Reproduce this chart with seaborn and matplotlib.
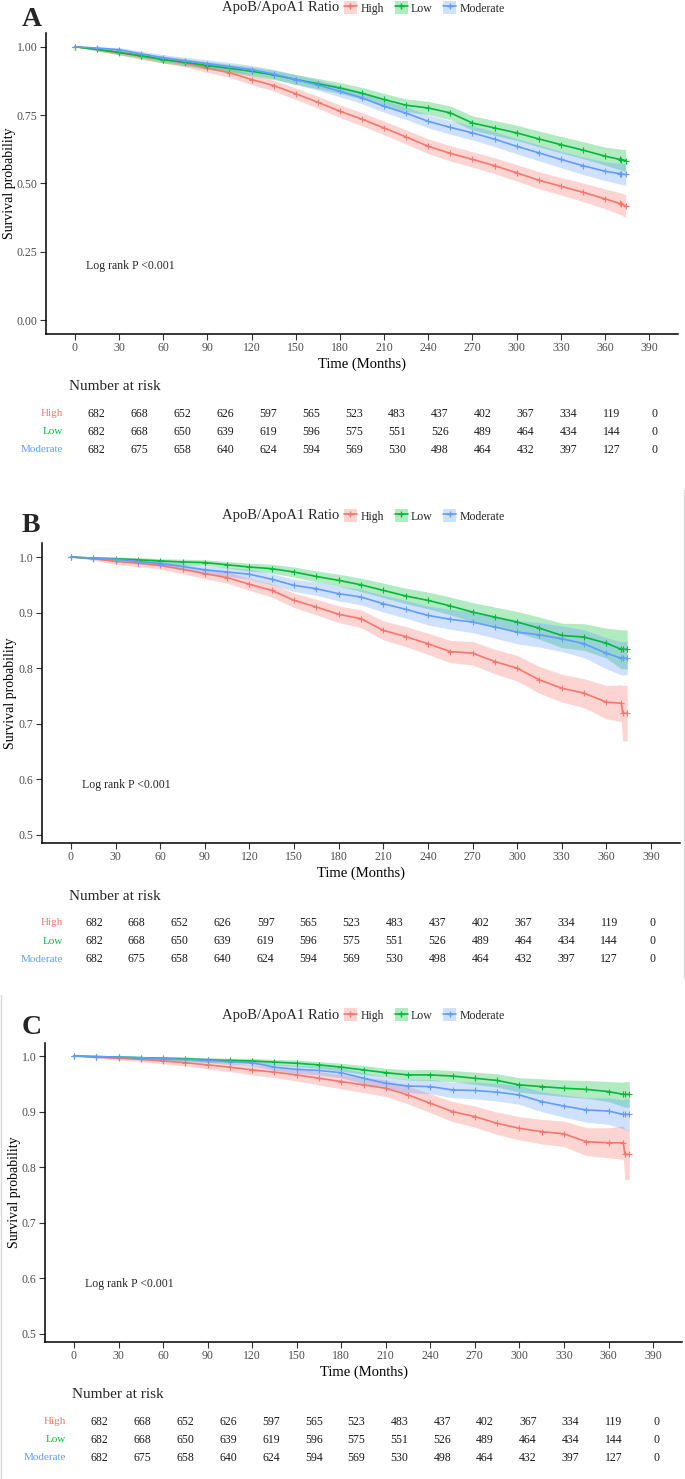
import numpy as np
import pandas as pd
import seaborn as sns
import matplotlib.pyplot as plt
from matplotlib.lines import Line2D
from matplotlib.patches import Patch

# ---- data ----
groups = ["High", "Low", "Moderate"]
colors = {"High": "#F8766D", "Low": "#00BA38", "Moderate": "#619CFF"}

# time grid (months) at which the curves were read
time = [0, 15, 30, 45, 60, 75, 90, 105, 120, 135, 150, 165, 180, 195, 210,
        225, 240, 255, 270, 285, 300, 315, 330, 345, 360, 370, 371, 374]

# panel A
a_high = [1.0, 0.99, 0.978, 0.965, 0.953, 0.94, 0.922, 0.905, 0.88, 0.858, 0.828, 0.797, 0.764, 0.735,
          0.703, 0.67, 0.636, 0.61, 0.588, 0.565, 0.539, 0.512, 0.49, 0.468, 0.444, 0.427, 0.425, 0.417]
a_low = [1.0, 0.99, 0.979, 0.967, 0.953, 0.943, 0.931, 0.921, 0.91, 0.897, 0.88, 0.865, 0.849, 0.83,
         0.807, 0.786, 0.776, 0.758, 0.721, 0.703, 0.685, 0.663, 0.642, 0.622, 0.60, 0.588, 0.587, 0.584]
a_mod = [1.0, 0.995, 0.989, 0.974, 0.959, 0.948, 0.938, 0.927, 0.916, 0.9, 0.88, 0.86, 0.837, 0.813,
         0.782, 0.757, 0.727, 0.705, 0.685, 0.662, 0.636, 0.612, 0.588, 0.565, 0.545, 0.536, 0.535, 0.533]
# half-width of the confidence band
a_high_ci = [0, 0.006, 0.009, 0.011, 0.013, 0.014, 0.016, 0.017, 0.019, 0.02, 0.021, 0.022, 0.023, 0.024,
             0.025, 0.026, 0.027, 0.028, 0.028, 0.029, 0.03, 0.031, 0.032, 0.034, 0.036, 0.04, 0.04, 0.042]
a_low_ci = [0, 0.005, 0.008, 0.01, 0.012, 0.013, 0.014, 0.015, 0.016, 0.017, 0.018, 0.019, 0.02, 0.021,
            0.022, 0.023, 0.024, 0.025, 0.026, 0.027, 0.028, 0.029, 0.03, 0.031, 0.033, 0.038, 0.038, 0.04]
a_mod_ci = [0, 0.005, 0.008, 0.01, 0.012, 0.013, 0.014, 0.015, 0.016, 0.017, 0.018, 0.019, 0.02, 0.021,
            0.022, 0.023, 0.024, 0.025, 0.026, 0.027, 0.028, 0.029, 0.03, 0.032, 0.034, 0.038, 0.038, 0.04]

# panel B
b_high = [1.0, 0.997, 0.992, 0.989, 0.985, 0.978, 0.97, 0.963, 0.951, 0.94, 0.922, 0.91, 0.897, 0.889,
          0.868, 0.857, 0.844, 0.83, 0.827, 0.812, 0.80, 0.779, 0.764, 0.755, 0.739, 0.737, 0.719, 0.719]
b_low = [1.0, 0.998, 0.997, 0.995, 0.993, 0.991, 0.99, 0.986, 0.982, 0.979, 0.973, 0.965, 0.958, 0.95,
         0.94, 0.93, 0.922, 0.912, 0.901, 0.892, 0.883, 0.872, 0.859, 0.856, 0.845, 0.834, 0.834, 0.834]
b_mod = [1.0, 0.998, 0.996, 0.992, 0.988, 0.983, 0.977, 0.973, 0.969, 0.96, 0.949, 0.943, 0.934, 0.928,
         0.916, 0.906, 0.895, 0.888, 0.883, 0.874, 0.865, 0.86, 0.853, 0.844, 0.827, 0.818, 0.818, 0.818]
b_high_ci = [0, 0.003, 0.005, 0.006, 0.007, 0.008, 0.009, 0.01, 0.011, 0.012, 0.013, 0.014, 0.015, 0.016,
             0.017, 0.018, 0.019, 0.02, 0.021, 0.022, 0.023, 0.024, 0.025, 0.026, 0.03, 0.033, 0.05, 0.05]
b_low_ci = [0, 0.002, 0.003, 0.004, 0.004, 0.005, 0.005, 0.006, 0.007, 0.008, 0.009, 0.01, 0.011, 0.012,
            0.013, 0.014, 0.015, 0.016, 0.017, 0.018, 0.019, 0.02, 0.022, 0.024, 0.027, 0.035, 0.035, 0.035]
b_mod_ci = [0, 0.002, 0.003, 0.004, 0.005, 0.006, 0.007, 0.008, 0.009, 0.01, 0.011, 0.012, 0.013, 0.014,
            0.015, 0.016, 0.017, 0.018, 0.019, 0.02, 0.021, 0.022, 0.023, 0.025, 0.028, 0.03, 0.03, 0.03]

# panel C
c_high = [1.0, 0.998, 0.996, 0.994, 0.991, 0.988, 0.984, 0.98, 0.975, 0.971, 0.966, 0.96, 0.954, 0.948,
          0.942, 0.93, 0.915, 0.90, 0.891, 0.879, 0.87, 0.864, 0.86, 0.846, 0.844, 0.844, 0.823, 0.823]
c_low = [1.0, 0.999, 0.998, 0.997, 0.996, 0.995, 0.993, 0.992, 0.991, 0.989, 0.987, 0.984, 0.98, 0.975,
         0.97, 0.966, 0.966, 0.964, 0.96, 0.956, 0.948, 0.945, 0.942, 0.94, 0.936, 0.931, 0.931, 0.931]
c_mod = [1.0, 0.999, 0.998, 0.997, 0.995, 0.994, 0.992, 0.99, 0.988, 0.98, 0.976, 0.974, 0.97, 0.96,
         0.951, 0.946, 0.945, 0.939, 0.938, 0.935, 0.93, 0.918, 0.91, 0.903, 0.901, 0.895, 0.895, 0.895]
c_high_ci = [0, 0.002, 0.003, 0.004, 0.005, 0.006, 0.007, 0.008, 0.009, 0.01, 0.011, 0.012, 0.013, 0.014,
             0.015, 0.016, 0.017, 0.018, 0.019, 0.02, 0.021, 0.022, 0.023, 0.025, 0.027, 0.03, 0.045, 0.045]
c_low_ci = [0, 0.001, 0.002, 0.002, 0.003, 0.003, 0.004, 0.004, 0.005, 0.005, 0.006, 0.006, 0.007, 0.008,
            0.008, 0.009, 0.01, 0.01, 0.011, 0.012, 0.013, 0.014, 0.015, 0.016, 0.018, 0.022, 0.023, 0.023]
c_mod_ci = [0, 0.001, 0.002, 0.002, 0.003, 0.004, 0.004, 0.005, 0.005, 0.006, 0.007, 0.008, 0.009, 0.01,
            0.011, 0.012, 0.013, 0.014, 0.015, 0.016, 0.017, 0.018, 0.02, 0.022, 0.024, 0.026, 0.028, 0.028]

# number at risk (same table under each panel)
risk_times = [0, 30, 60, 90, 120, 150, 180, 210, 240, 270, 300, 330, 360, 390]
risk_high = [682, 668, 652, 626, 597, 565, 523, 483, 437, 402, 367, 334, 119, 0]
risk_low = [682, 668, 650, 639, 619, 596, 575, 551, 526, 489, 464, 434, 144, 0]
risk_mod = [682, 675, 658, 640, 624, 594, 569, 530, 498, 464, 432, 397, 127, 0]
x_ticks = list(range(0, 391, 30))

# ---- figure ----
sns.set_theme(style="ticks")
plt.rcParams['font.family'] = ['Liberation Serif', 'DejaVu Serif']

W, H = 685, 1479
fig = plt.figure(figsize=(W / 100, H / 100), dpi=100)


def rect(l, t, r, b):
    return [l / W, 1 - b / H, (r - l) / W, (b - t) / H]


def ftext(x, y, s, **kw):
    fig.text(x / W, 1 - y / H, s, **kw)


def make_df(high, low, mod, hci, lci, mci):
    rows = []
    for g, s, ci in [("High", high, hci), ("Low", low, lci), ("Moderate", mod, mci)]:
        for t, v, e in zip(time, s, ci):
            rows.append({"time": t, "surv": v, "lo": v - e, "hi": v + e, "group": g})
    return pd.DataFrame(rows)


panels = [
    dict(letter="A", df=make_df(a_high, a_low, a_mod, a_high_ci, a_low_ci, a_mod_ci),
         ax=(46, 33, 678, 334), ylim=(-0.05, 1.05), yticks=[0, 0.25, 0.5, 0.75, 1.0], yfmt="{:.2f}",
         pval_y=0.2, leg_y=8, letter_y=19, ylab_x=-0.057,
         risk_title=(69, 387), tab=(69, 405, 682, 459), lab_x=63),
    dict(letter="B", df=make_df(b_high, b_low, b_mod, b_high_ci, b_low_ci, b_mod_ci),
         ax=(42, 543, 680, 843), ylim=(0.4856, 1.0252), yticks=[0.5, 0.6, 0.7, 0.8, 0.9, 1.0], yfmt="{:.1f}",
         pval_y=0.59, leg_y=516, letter_y=526, ylab_x=-0.05,
         risk_title=(69, 896), tab=(66, 914, 680, 968), lab_x=63),
    dict(letter="C", df=make_df(c_high, c_low, c_mod, c_high_ci, c_low_ci, c_mod_ci),
         ax=(45, 1043, 682, 1342), ylim=(0.4856, 1.0234), yticks=[0.5, 0.6, 0.7, 0.8, 0.9, 1.0], yfmt="{:.1f}",
         pval_y=0.59, leg_y=1015, letter_y=1028, ylab_x=-0.048,
         risk_title=(72, 1395), tab=(72, 1413, 684, 1467), lab_x=66),
]

for p in panels:
    ax = fig.add_axes(rect(*p["ax"]))
    df = p["df"]
    for g in groups:
        d = df[df.group == g]
        ax.fill_between(d.time, d.lo, d.hi, color=colors[g], alpha=0.3, lw=0)
    sns.lineplot(data=df, x="time", y="surv", hue="group", hue_order=groups, palette=colors,
                 estimator=None, legend=False, ax=ax, linewidth=1.2,
                 marker="+", markersize=4, markeredgewidth=0.8)
    # censor marks in the curve colour (seaborn paints marker edges white)
    for ln in ax.lines:
        ln.set_markeredgecolor(ln.get_color())
    ax.set_xlim(-19.5, 409.5)
    ax.set_ylim(*p["ylim"])
    ax.set_xticks(x_ticks)
    ax.set_yticks(p["yticks"])
    ax.set_yticklabels([p["yfmt"].format(v) for v in p["yticks"]])
    ax.tick_params(length=4, width=0.8, color="#333333", labelsize=8.5, labelcolor="#4D4D4D", pad=2)
    for s in ["top", "right"]:
        ax.spines[s].set_visible(False)
    for s in ["left", "bottom"]:
        ax.spines[s].set_color("black")
        ax.spines[s].set_linewidth(1.1)
    ax.set_xlabel("Time (Months)", fontsize=10.5, labelpad=2, color="black")
    ax.set_ylabel("Survival probability", fontsize=10, color="black")
    ax.yaxis.set_label_coords(p["ylab_x"], 0.5)
    ax.yaxis.label.set_va("center")
    ax.text(7.5, p["pval_y"], "Log rank P <0.001", fontsize=8.5, ha="left", va="center")

    # panel letter and legend
    ftext(22, p["letter_y"], p["letter"], fontsize=20, fontweight="bold", va="center")
    ftext(339, p["leg_y"], "ApoB/ApoA1 Ratio", fontsize=10.5, ha="right", va="center")
    handles = [(Patch(facecolor=colors[g], alpha=0.3, edgecolor="none"),
                Line2D([], [], color=colors[g], lw=1.2, marker="+", markersize=5)) for g in groups]
    fig.legend(handles, groups, loc="center left", bbox_to_anchor=(344 / W, 1 - p["leg_y"] / H),
               ncol=3, frameon=False, fontsize=8.5, handlelength=1.1, handleheight=1.3,
               handletextpad=0.3, columnspacing=0.9, borderpad=0, borderaxespad=0)

    # number at risk table
    ftext(p["risk_title"][0], p["risk_title"][1], "Number at risk", fontsize=11, ha="left", va="center")
    tab = fig.add_axes(rect(*p["tab"]))
    tab.set_xlim(-19.5, 409.5)
    tab.set_ylim(2.5, -0.5)
    tab.axis("off")
    for i, (g, vals) in enumerate(zip(groups, [risk_high, risk_low, risk_mod])):
        for t_, n in zip(risk_times, vals):
            tab.text(t_, i, str(n), ha="center", va="center", fontsize=8.5, color="#1a1a1a")
        ty = p["tab"][1] + 9 + 18 * i
        ftext(p["lab_x"], ty, g, ha="right", va="center", fontsize=8, color=colors[g])

# faint borders left over from the composite image
fig.add_artist(Line2D([684 / W, 684 / W], [1 - 490 / H, 1 - 978 / H], color="#d9d9d9", lw=1))
fig.add_artist(Line2D([1 / W, 1 / W], [1 - 995 / H, 0], color="#d9d9d9", lw=1))

fig.savefig("out.png", dpi=100)
